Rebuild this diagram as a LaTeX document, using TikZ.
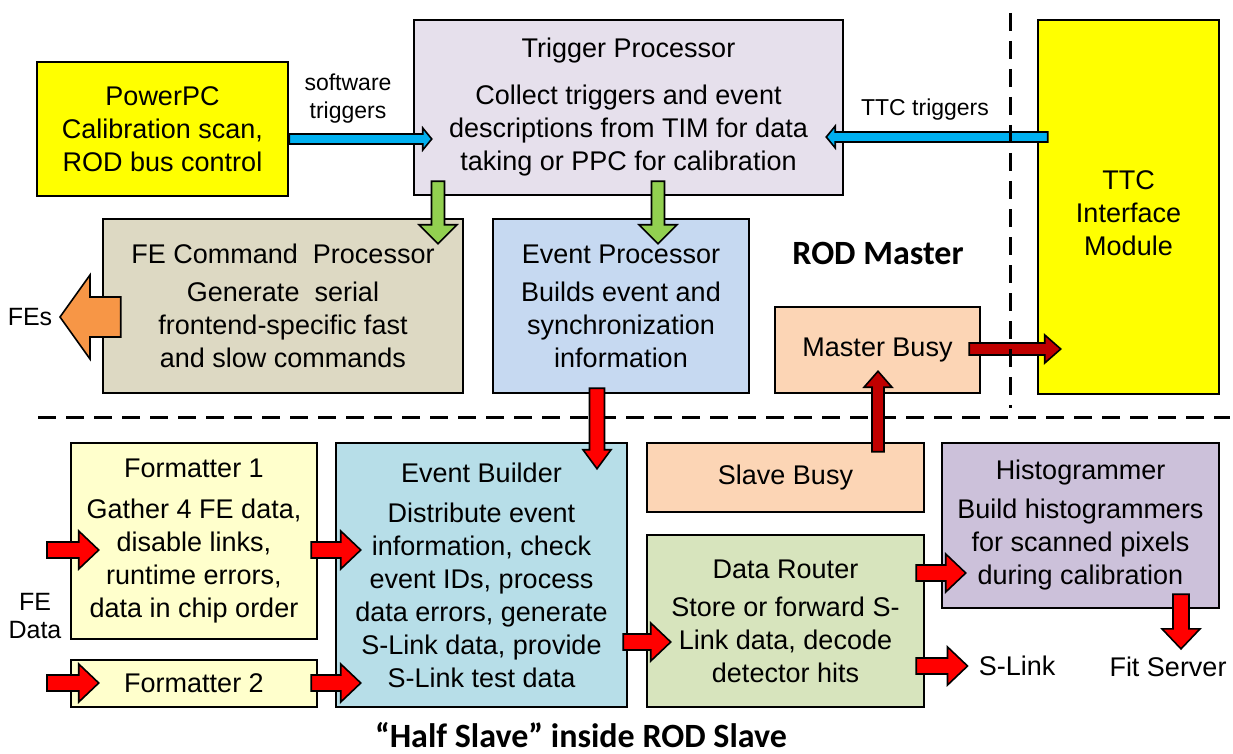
\documentclass[tikz,border=0pt]{standalone}
\usepackage{fontspec}
\setmainfont{Liberation Sans}
\newfontfamily\carlito{Carlito}
\usetikzlibrary{calc}
\definecolor{cyellow}{HTML}{FFFF00}
\definecolor{ctrig}{HTML}{E6E0EC}
\definecolor{cfec}{HTML}{DDD9C3}
\definecolor{cep}{HTML}{C6D9F1}
\definecolor{cbusy}{HTML}{FCD5B5}
\definecolor{cfmt}{HTML}{FFFFCC}
\definecolor{ceb}{HTML}{B7DEE8}
\definecolor{cdr}{HTML}{D7E4BD}
\definecolor{chg}{HTML}{CCC1DA}
\definecolor{cblue}{HTML}{00B0F0}
\definecolor{cgreen}{HTML}{92D050}
\definecolor{corange}{HTML}{F79646}
\definecolor{cred}{HTML}{FF0000}
\definecolor{cdred}{HTML}{C00000}
\newcommand{\blockarr}[6]{%
  \coordinate (ba-a) at (#2);
  \coordinate (ba-b) at (#3);
  \coordinate (ba-c) at ($(ba-b)!#6!(ba-a)$);
  \filldraw[fill=#1, draw=black, line width=1.6pt, line join=miter]
    ($(ba-a)!#4!90:(ba-b)$) -- ($(ba-c)!#4!90:(ba-b)$) -- ($(ba-c)!#5!90:(ba-b)$) -- (ba-b)
    -- ($(ba-c)!#5!-90:(ba-b)$) -- ($(ba-c)!#4!-90:(ba-b)$) -- ($(ba-a)!#4!-90:(ba-b)$) -- cycle;
}
\tikzset{
  box/.style={draw=black, line width=2.5pt, align=center, inner sep=0pt,
    font=\fontsize{27}{33}\selectfont, text=black},
  lbl/.style={align=center, inner sep=0pt, text=black},
  dashline/.style={line width=3pt, dash pattern=on 18pt off 10pt}
}
\begin{document}
\begin{tikzpicture}[x=1pt,y=-1pt]
\useasboundingbox (0,0) rectangle (1233,754);
% horizontal separator
\draw[dashline] (38,417) -- (1230,417);
% boxes
\node[box, fill=cyellow, minimum width=251pt, minimum height=134pt] (ppc) at (162.5,129)
  {PowerPC\\Calibration scan,\\ROD bus control};
\node[box, fill=ctrig, minimum width=429pt, minimum height=175pt] (tp) at (628.5,107.5)
  {Trigger Processor\\[14pt]Collect triggers and event\\descriptions from TIM for data\\taking or PPC for calibration};
\node[box, fill=cyellow, minimum width=181pt, minimum height=374pt] (ttc) at (1128.5,207) {};
\node[lbl, font=\fontsize{27}{33}\selectfont] (ttctext) at (1128.5,213) {TTC\\Interface\\Module};
\node[box, fill=cfec, minimum width=360pt, minimum height=174pt] (fec) at (283,306)
  {FE Command~ Processor\\[5pt]Generate~ serial\\frontend-specific fast\\and slow commands};
\node[box, fill=cep, minimum width=256pt, minimum height=174pt] (ep) at (621,306)
  {Event Processor\\[5pt]Builds event and\\synchronization\\information};
\node[box, fill=cbusy, minimum width=205pt, minimum height=86pt] (mb) at (877.5,350) {Master Busy};
\node[box, fill=cfmt, minimum width=246pt, minimum height=196pt] (f1) at (194,541)
  {Formatter 1\\[8pt]Gather 4 FE data,\\disable links,\\runtime errors,\\data in chip order};
\node[box, fill=cfmt, minimum width=246pt, minimum height=47pt] (f2) at (194,683.5) {Formatter 2};
\node[box, fill=ceb, minimum width=291pt, minimum height=264pt] (eb) at (481.5,575)
  {Event Builder\\[7pt]Distribute event\\information, check\\event IDs, process\\data errors, generate\\S-Link data, provide\\S-Link test data};
\node[box, fill=cbusy, minimum width=277pt, minimum height=69pt] (sb) at (785.5,477.5) {Slave Busy};
\node[box, fill=cdr, minimum width=277pt, minimum height=172pt] (dr) at (785.5,621)
  {Data Router\\[5pt]Store or forward S-\\Link data, decode\\detector hits};
\node[box, fill=chg, minimum width=277pt, minimum height=165pt] (hg) at (1080.5,525.5)
  {Histogrammer\\[6pt]Build histogrammers\\for scanned pixels\\during calibration};
% labels
\node[lbl, font=\fontsize{23}{28}\selectfont] (sw) at (348,99) {software\\triggers};
\node[lbl, font=\fontsize{23}{28}\selectfont] (ttctrig) at (925,110) {TTC triggers};
\node[lbl, font=\fontsize{25}{30}\selectfont] (fes) at (30,317) {FEs};
\node[lbl, font=\fontsize{25}{28}\selectfont] (fedata) at (35,616) {FE\\Data};
\node[lbl, font=\fontsize{27}{33}\selectfont] (slink) at (1017,666) {S-Link};
\node[lbl, font=\fontsize{27}{33}\selectfont] (fit) at (1168,667) {Fit Server};
\node[lbl, font=\carlito\bfseries\fontsize{34}{38}\selectfont] (rodm) at (878,253) {ROD Master};
\node[lbl, font=\carlito\bfseries\fontsize{34}{38}\selectfont, anchor=base] (half) at (581,747) {“Half Slave” inside ROD Slave};
% free ends
\coordinate (fesend) at (60,317);
\coordinate (in1) at (47,550);
\coordinate (in2) at (47,683);
% arrows
\blockarr{cblue}{ppc.east |- 0,139}{$(tp.west |- 0,139)+(19,0)$}{5pt}{11pt}{9pt}
\blockarr{cblue}{$(ttc.west |- 0,137)+(11,0)$}{$(tp.east |- 0,137)+(-18,0)$}{5pt}{11pt}{9pt}
\blockarr{cgreen}{$(tp.south -| 438,0)+(0,-15)$}{$(fec.north -| 438,0)+(0,26)$}{6.5pt}{19pt}{19pt}
\blockarr{cgreen}{$(tp.south -| 658,0)+(0,-15)$}{$(ep.north -| 658,0)+(0,26)$}{6.5pt}{19pt}{19pt}
\blockarr{corange}{$(fec.west |- 0,317)+(19,0)$}{fesend}{20pt}{42pt}{30pt}
\blockarr{cred}{$(ep.south -| 597,0)+(0,-6)$}{$(eb.north -| 597,0)+(0,27)$}{7.5pt}{14pt}{19pt}
\blockarr{cdred}{$(mb.east |- 0,349)+(-12,0)$}{$(ttc.west |- 0,349)+(24,0)$}{6pt}{14pt}{16pt}
\blockarr{cdred}{$(sb.north -| 878,0)+(0,10)$}{$(mb.south -| 878,0)+(0,-23)$}{6pt}{14pt}{16pt}
\blockarr{cred}{in1}{$(f1.west |- 0,550)+(29,0)$}{8pt}{19pt}{20pt}
\blockarr{cred}{in2}{$(f2.west |- 0,683)+(29,0)$}{8pt}{19pt}{20pt}
\blockarr{cred}{$(f1.east |- 0,550)+(-7,0)$}{$(eb.west |- 0,550)+(26,0)$}{8pt}{19pt}{20pt}
\blockarr{cred}{$(f2.east |- 0,683)+(-7,0)$}{$(eb.west |- 0,683)+(26,0)$}{8pt}{19pt}{20pt}
\blockarr{cred}{$(eb.east |- 0,642)+(-5,0)$}{$(dr.west |- 0,642)+(25,0)$}{8pt}{19pt}{20pt}
\blockarr{cred}{$(dr.east |- 0,573)+(-9,0)$}{$(hg.west |- 0,573)+(25,0)$}{8pt}{19pt}{20pt}
\blockarr{cred}{$(dr.east |- 0,666)+(-9,0)$}{$(slink.west)+(-11,0)$}{8pt}{19pt}{20pt}
\blockarr{cred}{$(hg.south -| 1181,0)+(0,-15)$}{$(fit.north -| 1181,0)+(0,-8)$}{8pt}{19pt}{20pt}
% vertical separator
\draw[dashline] (1010,13) -- (1010,408);
\end{tikzpicture}
\end{document}
